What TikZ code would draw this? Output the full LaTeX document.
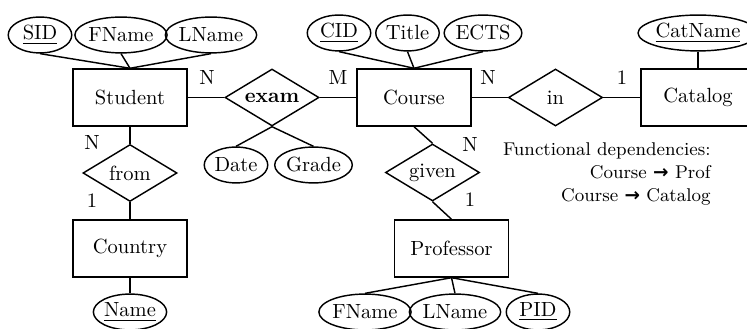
\documentclass[tikz,border=0pt]{standalone}
\usepackage{fontspec}
\newfontfamily\arrowfont{DejaVu Sans}
\usepackage{tikz}
\usetikzlibrary{shapes.geometric}
\newcommand{\fdarrow}{{\arrowfont\bfseries →}}

\begin{document}
\begin{tikzpicture}[x=0.4878pt,y=-0.4878pt]
\tikzstyle{ent}= [rectangle, draw, line width=.7pt, minimum width=55.6pt, minimum height=27.8pt, inner sep=0pt]
\tikzstyle{rel}= [diamond, draw, line width=.7pt, aspect=2, inner sep=0pt, minimum width=45.9pt, minimum height=27.8pt]
\tikzstyle{att}= [ellipse, draw, line width=.7pt, inner xsep=0pt, inner ysep=0pt, minimum width=31pt, minimum height=17.5pt]
\tikzstyle{card}= [inner sep=0pt]
\tikzstyle{con}= [line width=.7pt]
\useasboundingbox (0,0) rectangle (747,329);
%entities
\node[ent] (student) at (130,97.5) {Student};
\node[ent] (course) at (414,97.5) {Course};
\node[ent] (catalog) at (698,97.5) {Catalog};
\node[ent] (country) at (130,248.5) {Country};
\node[ent] (professor) at (451.5,248.5) {Professor};
%relations
\node[rel] (exam) at (272,97.5) {\textbf{exam}};
\node[rel] (in) at (555.5,97.5) {in};
\node[rel] (from) at (130,173) {from};
\node[rel] (given) at (432.5,172.5) {given};
%attributes
\node[att] (sid) at (40,35) {\underline{SID}};
\node[att] (sfname) at (121,35) {FName};
\node[att] (slname) at (211,35) {LName};
\node[att] (cid) at (339,33) {\underline{CID}};
\node[att] (title) at (407.5,33) {Title};
\node[att] (ects) at (483,33) {ECTS};
\node[att] (catname) at (698,33) {\underline{CatName}};
\node[att] (date) at (236,165) {Date};
\node[att] (grade) at (313.5,165) {Grade};
\node[att] (name) at (130,312) {\underline{Name}};
\node[att] (pfname) at (365,312) {FName};
\node[att] (plname) at (455,312) {LName};
\node[att] (pid) at (538,312) {\underline{PID}};
%cardinalities
\node[card] (n1) at (207,78) {N};
\node[card] (m1) at (338,78) {M};
\node[card] (n2) at (488,78) {N};
\node[card] (o2) at (622,78) {1};
\node[card] (n3) at (92,143) {N};
\node[card] (o3) at (92,201) {1};
\node[card] (n4) at (470,145) {N};
\node[card] (o4) at (470,200) {1};
%dependencies
\node[inner sep=0pt, align=right, anchor=east, font=\small] (fd) at (711,174)
  {Functional dependencies:\\ Course \fdarrow{} Prof\\ Course \fdarrow{} Catalog};
%lines
\draw[con] (sid.south) -- (student.north);
\draw[con] (sfname.south) -- (student.north);
\draw[con] (slname.south) -- (student.north);
\draw[con] (cid.south) -- (course.north);
\draw[con] (title.south) -- (course.north);
\draw[con] (ects.south) -- (course.north);
\draw[con] (catname) -- (catalog);
\draw[con] (student) -- (exam) -- (course) -- (in) -- (catalog);
\draw[con] (exam.south) -- (date.north);
\draw[con] (exam.south) -- (grade.north);
\draw[con] (student) -- (from) -- (country) -- (name);
\draw[con] (course.south) -- (given.north);
\draw[con] (given.south) -- (professor.north);
\draw[con] (professor.south) -- (pfname.north);
\draw[con] (professor.south) -- (plname.north);
\draw[con] (professor.south) -- (pid.north);
\end{tikzpicture}
\end{document}
